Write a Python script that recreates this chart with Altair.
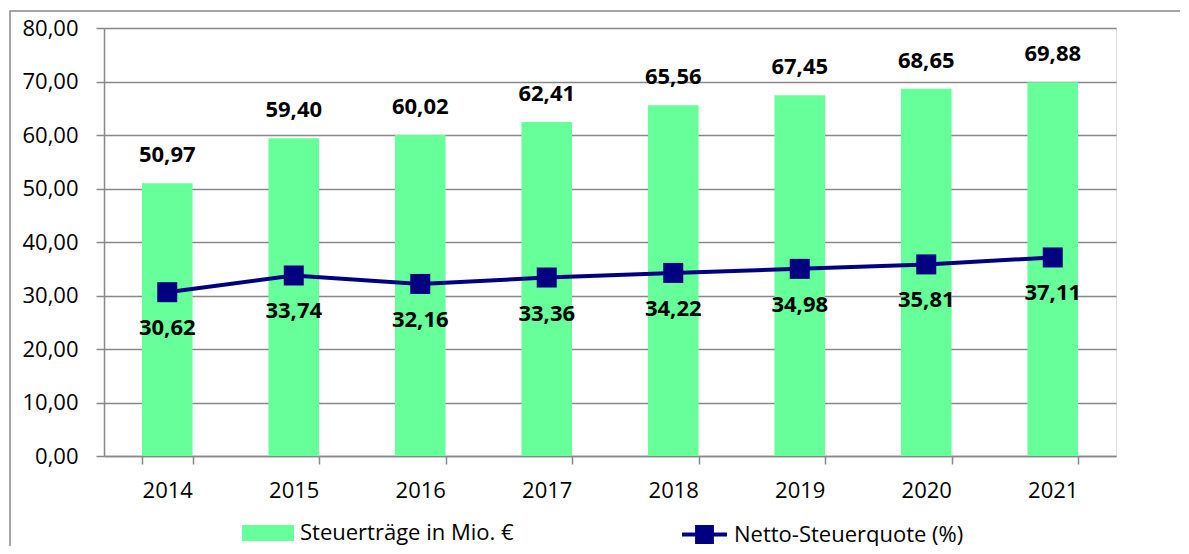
import altair as alt
import pandas as pd

years = ["2014", "2015", "2016", "2017", "2018", "2019", "2020", "2021"]
revenue = [50.97, 59.40, 60.02, 62.41, 65.56, 67.45, 68.65, 69.88]
quote = [30.62, 33.74, 32.16, 33.36, 34.22, 34.98, 35.81, 37.11]
bar_name = "Steuerträge in Mio. €"
line_name = "Netto-Steuerquote (%)"
y_ticks = [0, 10, 20, 30, 40, 50, 60, 70, 80]

df = pd.DataFrame({
    "year": years,
    "revenue": revenue,
    "quote": quote,
    "bar_series": [bar_name] * len(years),
    "line_series": [line_name] * len(years),
})

FONT = "Open Sans"
GRID = "#888888"
GREEN = "#66FF99"
NAVY = "#000080"

x = alt.X(
    "year:N",
    sort=years,
    scale=alt.Scale(paddingInner=0.6, paddingOuter=0.3),
    axis=alt.Axis(
        title=None, labelAngle=0, tickBand="extent", tickSize=8, tickColor=GRID,
        tickWidth=1.5, domainColor=GRID, domainWidth=1.5, labelPadding=16,
        labelFont=FONT, labelFontSize=22, labelColor="black", grid=False,
    ),
)

yscale = alt.Scale(domain=[0, 80], nice=False)

base = alt.Chart(df)

bars = base.mark_bar().encode(
    x=x,
    y=alt.Y(
        "revenue:Q", scale=yscale,
        axis=alt.Axis(
            title=None, values=y_ticks, format=".2f", tickSize=8, tickColor=GRID,
            tickWidth=1.5, domainColor=GRID, domainWidth=1.5, gridColor=GRID,
            gridWidth=1.5, labelPadding=18, labelFont=FONT, labelFontSize=22,
            labelColor="black",
        ),
    ),
    fill=alt.Fill(
        "bar_series:N",
        scale=alt.Scale(domain=[bar_name], range=[GREEN]),
        legend=alt.Legend(
            title=None, orient="none", legendX=138, legendY=479, padding=0,
            symbolType="M-1,-0.3077H1V0.3077H-1Z", symbolSize=2704,
            symbolStrokeWidth=0, symbolOpacity=1, labelOffset=6, labelFont=FONT,
            labelFontSize=22, labelColor="black", labelLimit=400,
        ),
    ),
)

bar_labels = base.mark_text(
    font=FONT, fontSize=22, fontWeight="bold", color="black",
    baseline="middle", dy=-28,
).encode(
    x=x,
    y=alt.Y("revenue:Q", scale=yscale),
    text=alt.Text("revenue:Q", format=".2f"),
)

line = base.mark_line(strokeWidth=4).encode(
    x=x,
    y=alt.Y("quote:Q", scale=yscale),
    stroke=alt.Stroke(
        "line_series:N",
        scale=alt.Scale(domain=[line_name], range=[NAVY]),
        legend=alt.Legend(
            title=None, orient="none", legendX=576, legendY=482, padding=0,
            symbolType="M-1,0H1M-0.33,-0.33H0.33V0.33H-0.33Z", symbolSize=2025,
            symbolStrokeWidth=4, symbolFillColor=NAVY, labelOffset=5,
            labelFont=FONT, labelFontSize=22, labelColor="black", labelLimit=400,
        ),
    ),
)

points = base.mark_point(shape="square", size=400, filled=True, color=NAVY, opacity=1).encode(
    x=x,
    y=alt.Y("quote:Q", scale=yscale),
)

line_labels = base.mark_text(
    font=FONT, fontSize=22, fontWeight="bold", color="black",
    baseline="middle", dy=36,
).encode(
    x=x,
    y=alt.Y("quote:Q", scale=yscale),
    text=alt.Text("quote:Q", format=".2f"),
)

frame = alt.Chart(pd.DataFrame({"f": [0]})).mark_rect(
    fillOpacity=0, stroke=GRID, strokeWidth=1.5
).encode(
    x=alt.value(-94), x2=alt.value(3000), y=alt.value(-17), y2=alt.value(3000)
)

chart = alt.layer(frame, bars, bar_labels, line, points, line_labels).resolve_scale(
    fill="independent", stroke="independent"
).properties(
    width=1012,
    height=428,
    autosize=alt.AutoSizeParams(type="none"),
    padding={"left": 96, "top": 20, "right": 64, "bottom": 90},
    background="white",
).configure_view(strokeWidth=0).configure(
    locale={"number": {"decimal": ",", "thousands": ".", "grouping": [3], "currency": ["", " €"]}}
)

chart.save("out.html", embed_options={"renderer": "svg", "actions": False})
